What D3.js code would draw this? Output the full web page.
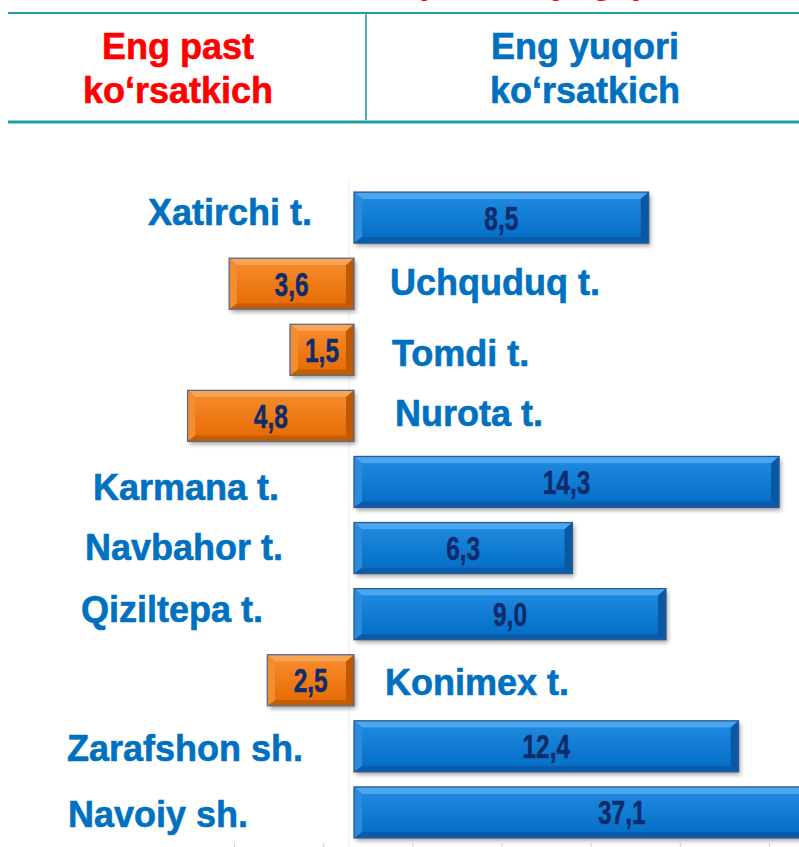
<!DOCTYPE html>
<html>
<head>
<meta charset="utf-8">
<script src="https://cdn.jsdelivr.net/npm/d3@7"></script>
<style>
  html, body { margin: 0; padding: 0; background: #fff; }
  svg { display: block; font-family: "Liberation Sans", Arial, sans-serif; }
</style>
</head>
<body>
<svg id="chart" width="799" height="847"></svg>
<script>
// ---------- data ----------
const categories = ["Xatirchi t.", "Uchquduq t.", "Tomdi t.", "Nurota t.", "Karmana t.",
                    "Navbahor t.", "Qiziltepa t.", "Konimex t.", "Zarafshon sh.", "Navoiy sh."];
const values = [8.5, 3.6, 1.5, 4.8, 14.3, 6.3, 9.0, 2.5, 12.4, 37.1];
const groups = ["high", "low", "low", "low", "high", "high", "high", "low", "high", "high"];
const headerLow = ["Eng past", "ko‘rsatkich"];
const headerHigh = ["Eng yuqori", "ko‘rsatkich"];
const titleText = "(foizda, yilga)";
const axisTicks = [-10, -5, 0, 5, 10, 15, 20];

// ---------- layout (hand-placed label nudges, px) ----------
const labelNudge = [[0, 7], [0, 11], [2, 16], [5, 10], [-33, 18], [-29, 12], [-49, 8], [-5, 15], [-9, 15], [-64, 15]];

const svg = d3.select("#chart");
const W = 799, H = 847;
const x0 = 354;

// broken-ish magnitude scale (infographic style)
const xs = d3.scaleLinear().domain([0, 9, 15, 40]).range([0, 312, 440, 548]);
const y = d3.scaleBand().domain(categories).range([177, 853]).paddingInner(0.2285).paddingOuter(0.2285);
const bw = y.bandwidth();

const defs = svg.append("defs");
const f = defs.append("filter").attr("id", "shadow").attr("x", "-10%").attr("y", "-20%").attr("width", "130%").attr("height", "160%");
f.append("feDropShadow").attr("dx", 2).attr("dy", 3).attr("stdDeviation", 2).attr("flood-color", "#000").attr("flood-opacity", 0.35);

const palette = {
  high: { border: "#2b5a90", top: "#4aa6ee", bottom: "#0a5cab", left: "#2a8ade", right: "#0a58a4",
          faceTop: "#1d88de", faceBot: "#0670c8" },
  low:  { border: "#5a6b8e", top: "#f9a452", bottom: "#c45c00", left: "#f38d32", right: "#bf5800",
          faceTop: "#f6892a", faceBot: "#e66d06" }
};
Object.entries(palette).forEach(([k, p]) => {
  const g = defs.append("linearGradient").attr("id", "face-" + k).attr("x1", 0).attr("y1", 0).attr("x2", 0).attr("y2", 1);
  g.append("stop").attr("offset", "0%").attr("stop-color", p.faceTop);
  g.append("stop").attr("offset", "100%").attr("stop-color", p.faceBot);
});

// ---------- header ----------
const teal = "#1e9e9e";
svg.append("line").attr("x1", 8).attr("x2", W).attr("y1", 13).attr("y2", 13).attr("stroke", teal).attr("stroke-width", 2);
svg.append("line").attr("x1", 8).attr("x2", W).attr("y1", 122).attr("y2", 122).attr("stroke", teal).attr("stroke-width", 3);
svg.append("line").attr("x1", 366).attr("x2", 366).attr("y1", 13).attr("y2", 120).attr("stroke", teal).attr("stroke-width", 1.6);

svg.append("text").attr("x", 530).attr("y", -7).attr("text-anchor", "middle")
  .attr("font-size", 36).attr("font-weight", "bold").attr("fill", "#ff0000").text(titleText);

[[headerLow, 178, "#ff0000"], [headerHigh, 585, "#0070c0"]].forEach(([lines, cx, col]) => {
  lines.forEach((t, i) => {
    svg.append("text").attr("x", cx).attr("y", 59 + i * 44).attr("text-anchor", "middle")
      .attr("font-size", 36).attr("font-weight", "bold").attr("fill", col)
      .attr("stroke", col).attr("stroke-width", 0.6).text(t);
  });
});

// ---------- faint axes ----------
svg.append("line").attr("x1", 349).attr("x2", 349).attr("y1", 180).attr("y2", H)
  .attr("stroke", "#ececec").attr("stroke-width", 1);
const tickScale = d3.scaleLinear().domain([-10, 20]).range([234, 769]);
const ax = svg.append("g").attr("transform", `translate(0,${H - 4})`)
  .call(d3.axisBottom(tickScale).tickValues(axisTicks).tickSize(4).tickFormat(""));
ax.select(".domain").remove();
ax.selectAll(".tick line").attr("stroke", "#cfcfcf");

// ---------- bars ----------
const data = categories.map((c, i) => ({ c, v: values[i], g: groups[i], n: labelNudge[i] }));

const bars = svg.append("g").selectAll("g.bar").data(data).join("g").attr("class", "bar");

bars.each(function (d) {
  const g = d3.select(this);
  const p = palette[d.g];
  const w = Math.max(xs(d.v), 64);
  const left = d.g === "high" ? x0 : x0 - w;
  const top = y(d.c);
  const h = bw;
  const bl = 8, br = 8, bt = 7, bb = 6;
  const L = left, R = left + w, T = top, B = top + h;

  g.append("rect").attr("x", L).attr("y", T).attr("width", w).attr("height", h)
    .attr("fill", p.faceBot).attr("filter", "url(#shadow)");
  // bevels
  const poly = (pts, fill) => g.append("polygon").attr("points", pts.map(q => q.join(",")).join(" ")).attr("fill", fill);
  poly([[L, T], [R, T], [R - br, T + bt], [L + bl, T + bt]], p.top);
  poly([[L, B], [R, B], [R - br, B - bb], [L + bl, B - bb]], p.bottom);
  poly([[L, T], [L + bl, T + bt], [L + bl, B - bb], [L, B]], p.left);
  poly([[R, T], [R - br, T + bt], [R - br, B - bb], [R, B]], p.right);
  g.append("rect").attr("x", L + bl).attr("y", T + bt).attr("width", w - bl - br).attr("height", h - bt - bb)
    .attr("fill", `url(#face-${d.g})`);
  g.append("rect").attr("x", L).attr("y", T).attr("width", w).attr("height", h)
    .attr("fill", "none").attr("stroke", p.border).attr("stroke-width", 1.3);

  // value label
  g.append("text")
    .attr("transform", `translate(${L + w / 2},${T + h / 2}) scale(0.72,1)`)
    .attr("text-anchor", "middle").attr("dominant-baseline", "central")
    .attr("font-size", 34).attr("font-weight", "bold").attr("fill", "#0e2c6c")
    .attr("stroke", "#0e2c6c").attr("stroke-width", 0.5)
    .text(d3.format(".1f")(d.v).replace(".", ","));

  // category label
  const isHigh = d.g === "high";
  g.append("text")
    .attr("x", isHigh ? x0 - 42 + d.n[0] : x0 + 36 + d.n[0])
    .attr("y", T + h / 2 + d.n[1])
    .attr("text-anchor", isHigh ? "end" : "start")
    .attr("font-size", 36).attr("font-weight", "bold").attr("fill", "#0070c0")
    .attr("stroke", "#0070c0").attr("stroke-width", 0.6)
    .text(d.c);
});
</script>
</body>
</html>
